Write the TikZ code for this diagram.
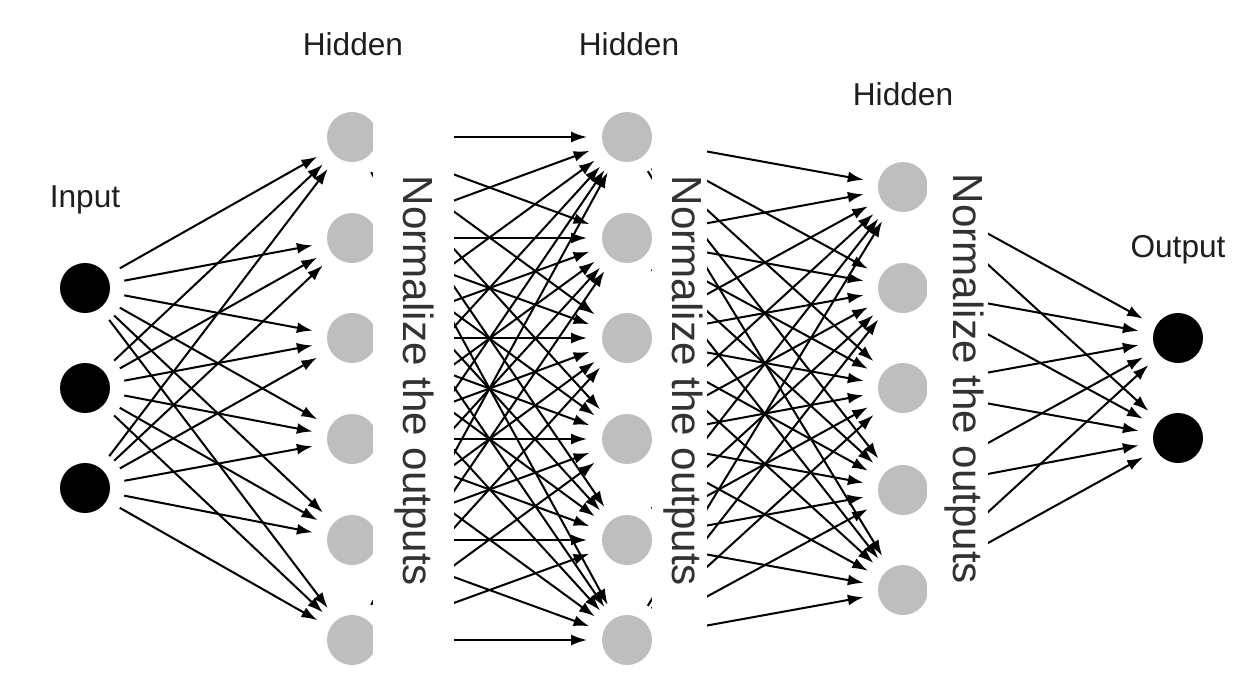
\documentclass[tikz,border=0pt]{standalone}
\usepackage{fontspec}
\setmainfont{Liberation Sans}
\usetikzlibrary{arrows.meta}
\definecolor{nodegray}{RGB}{190,190,190}
\definecolor{txt}{RGB}{30,30,30}
\definecolor{normtxt}{RGB}{50,50,50}
\tikzset{
  blackneuron/.style={circle, fill=black, minimum size=1cm, inner sep=0pt},
  grayneuron/.style={circle, fill=nodegray, minimum size=1cm, inner sep=0pt},
  conn/.style={line width=1.15pt, -{Latex[length=9pt,width=6.2pt]}, shorten <=0.8cm, shorten >=0.8cm},
  layerlabel/.style={font=\fontsize{18}{20}\selectfont, text=txt, anchor=base, inner sep=0pt},
  normlabel/.style={font=\fontsize{24}{26}\selectfont, text=normtxt, rotate=-90, inner sep=0pt},
  coverbox/.style={fill=white, draw=none}
}
\begin{document}
\begin{tikzpicture}[x=0.02cm, y=-0.02cm]
\useasboundingbox (0,0) rectangle (1251,677);
\fill[white] (0,0) rectangle (1251,677);
% neurons
\foreach \i/\y in {1/288,2/388,3/488} \node[blackneuron] (in\i) at (85,\y) {};
\foreach \i/\y in {1/137,2/238,3/338,4/439,5/540,6/640} \node[grayneuron] (ha\i) at (352,\y) {};
\foreach \i/\y in {1/137,2/238,3/338,4/439,5/540,6/640} \node[grayneuron] (hb\i) at (627,\y) {};
\foreach \i/\y in {1/187,2/288,3/388,4/490,5/590} \node[grayneuron] (hc\i) at (903,\y) {};
\foreach \i/\y in {1/338,2/438} \node[blackneuron] (out\i) at (1178,\y) {};
% connectors
\foreach \i in {1,...,3} \foreach \j in {1,...,6} \draw[conn] (in\i.center) -- (ha\j.center);
\foreach \i in {1,...,6} \foreach \j in {1,...,6} \draw[conn] (ha\i.center) -- (hb\j.center);
\foreach \i in {1,...,6} \foreach \j in {1,...,5} \draw[conn] (hb\i.center) -- (hc\j.center);
\foreach \i in {1,...,5} \foreach \j in {1,2} \draw[conn] (hc\i.center) -- (out\j.center);
% cover boxes
\fill[coverbox] (373,105) rectangle (454,672);
\fill[coverbox] (652,105) rectangle (707,672);
\fill[coverbox] (927,160) rectangle (988,620);
% normalize labels
\node[normlabel] (n1) at (414,381) {Normalize the outputs};
\node[normlabel] (n2) at (683,381) {Normalize the outputs};
\node[normlabel] (n3) at (964,379) {Normalize the outputs};
% layer labels
\node[layerlabel] (lin) at (85,207) {Input};
\node[layerlabel] (lh1) at (353,55) {Hidden};
\node[layerlabel] (lh2) at (629,55) {Hidden};
\node[layerlabel] (lh3) at (903,105) {Hidden};
\node[layerlabel] (lout) at (1178,257) {Output};
\end{tikzpicture}
\end{document}
